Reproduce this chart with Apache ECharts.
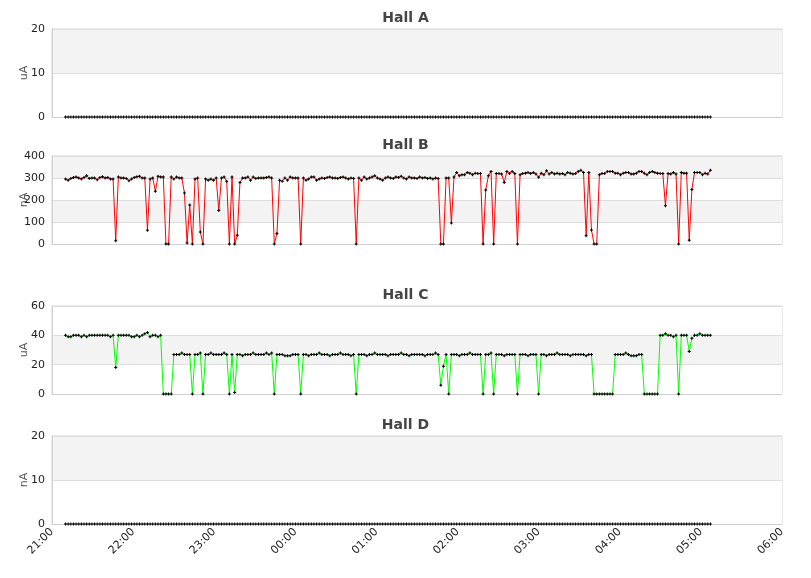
<!DOCTYPE html>
<html>
<head>
<meta charset="utf-8">
<script src="https://cdn.jsdelivr.net/npm/echarts@6/dist/echarts.min.js"></script>
<style>
html,body{margin:0;padding:0;background:#fff}
#main{width:811px;height:578px}
</style>
</head>
<body>
<div id="main"></div>
<script>
// samples: first one at 21:10, about every 1.95 min
var startMin = 10
var stepMin = 1.955

var tickLabels = ['21:00','22:00','23:00','00:00','01:00','02:00','03:00','04:00','05:00','06:00']

var halls = ['Hall A','Hall B','Hall C','Hall D']
var units = ['uA','nA','uA','nA']

// Hall A - flat zero all night
var hallA = [
0,0,0,0,0,0,0,0,0,0,0,0,0,0,0,0,0,0,0,0,0,0,0,0,0,0,0,0,0,0,0,0,0,0,0,0,0,0,0,0,0,0,0,0,0,0,0,0,0,0,
0,0,0,0,0,0,0,0,0,0,0,0,0,0,0,0,0,0,0,0,0,0,0,0,0,0,0,0,0,0,0,0,0,0,0,0,0,0,0,0,0,0,0,0,0,0,0,0,0,0,
0,0,0,0,0,0,0,0,0,0,0,0,0,0,0,0,0,0,0,0,0,0,0,0,0,0,0,0,0,0,0,0,0,0,0,0,0,0,0,0,0,0,0,0,0,0,0,0,0,0,
0,0,0,0,0,0,0,0,0,0,0,0,0,0,0,0,0,0,0,0,0,0,0,0,0,0,0,0,0,0,0,0,0,0,0,0,0,0,0,0,0,0,0,0,0,0,0,0,0,0,
0,0,0,0,0,0,0,0,0,0,0,0,0,0,0,0,0,0,0,0,0,0,0,0,0,0,0,0,0,0,0,0,0,0,0,0,0,0,0,0,0,0,0,0,0]

// Hall B
var hallB = [
295,290,298,302,305,300,296,302,310,298,300,300,292,302,306,300,302,296,295,
15,
305,300,300,298,288,295,302,306,308,300,300,
62,
295,300,240,308,305,305,0,0,305,295,305,300,300,232,5,177,0,295,300,55,0,
295,290,295,290,300,152,300,305,285,0,305,0,40,280,
300,300,305,290,305,298,300,300,300,302,305,300,
0,48,290,
285,300,290,305,300,300,300,
0,300,
290,295,305,305,290,295,300,298,302,305,300,300,298,302,305,300,295,300,298,
0,300,
290,305,295,300,305,310,300,295,290,300,305,300,298,305,302,308,300,295,305,300,
300,298,305,300,302,298,300,295,300,298,
0,0,300,300,95,305,325,
310,315,315,325,322,315,322,320,320,
0,245,310,330,0,320,320,318,280,330,320,330,320,0,315,
320,322,325,320,325,318,303,322,315,333,318,325,318,322,318,320,315,325,322,318,320,330,335,
325,38,325,64,0,0,315,
320,320,330,330,330,322,322,315,322,325,325,318,318,322,330,330,322,315,325,330,325,322,320,320,
174,320,318,325,318,0,325,322,322,17,248,325,325,325,315,322,318,335]

// Hall C
var hallC = [
40,39,39,40,40,40,39,40,39,40,40,40,40,40,40,40,40,39,40,
18,
40,40,40,40,40,39,39,40,39,40,41,42,39,40,40,39,40,
0,0,0,0,
27,27,27,28,27,27,27,
0,
27,27,28,
0,
27,27,28,27,27,27,27,28,27,
0,27,1,
27,27,26,27,27,27,28,27,27,27,27,28,27,28,
0,
27,27,27,26,26,26,27,27,27,
0,
27,27,26,27,27,27,28,27,27,27,26,27,27,27,28,27,27,27,26,27,
0,
27,27,27,26,27,27,28,27,27,27,27,26,27,27,27,27,28,27,27,26,27,27,27,27,27,26,27,27,27,28,27,
6,19,27,0,
27,27,27,26,27,27,27,28,27,27,27,27,
0,
27,27,28,
0,
27,27,27,26,27,27,27,27,
0,
27,27,27,26,27,27,27,
0,
27,27,26,27,27,27,28,27,27,27,27,26,27,27,27,27,27,26,27,27,
0,0,0,0,0,0,0,0,
27,27,27,27,28,27,26,26,26,27,27,
0,0,0,0,0,0,
40,40,41,40,40,39,40,
0,
40,40,40,29,38,
40,40,41,40,40,40,40]

// Hall D - flat zero all night
var hallD = [
0,0,0,0,0,0,0,0,0,0,0,0,0,0,0,0,0,0,0,0,0,0,0,0,0,0,0,0,0,0,0,0,0,0,0,0,0,0,0,0,0,0,0,0,0,0,0,0,0,0,
0,0,0,0,0,0,0,0,0,0,0,0,0,0,0,0,0,0,0,0,0,0,0,0,0,0,0,0,0,0,0,0,0,0,0,0,0,0,0,0,0,0,0,0,0,0,0,0,0,0,
0,0,0,0,0,0,0,0,0,0,0,0,0,0,0,0,0,0,0,0,0,0,0,0,0,0,0,0,0,0,0,0,0,0,0,0,0,0,0,0,0,0,0,0,0,0,0,0,0,0,
0,0,0,0,0,0,0,0,0,0,0,0,0,0,0,0,0,0,0,0,0,0,0,0,0,0,0,0,0,0,0,0,0,0,0,0,0,0,0,0,0,0,0,0,0,0,0,0,0,0,
0,0,0,0,0,0,0,0,0,0,0,0,0,0,0,0,0,0,0,0,0,0,0,0,0,0,0,0,0,0,0,0,0,0,0,0,0,0,0,0,0,0,0,0,0]

var yMax = [20,400,60,20]
var yStep = [10,100,20,10]
var lineColor = ['transparent','#ff0000','#00ff00','transparent']

var gridTop = [29,156,306,436]
var titleTop = [11,138,288,418]

var cross = 'path://M0,1H3V2H0ZM1,0H2V3H1Z'

function pts(arr){
	var out=[]
	for(var i=0;i<arr.length;i++){
		out.push([startMin+i*stepMin, arr[i]])
	}
	return out
}

var allData=[hallA,hallB,hallC,hallD]

var title=[],grid=[],xAxis=[],yAxis=[],series=[]
for(var k=0;k<4;k++){
	title.push({
		text: halls[k], left:'center', top:titleTop[k], padding:0,
		textStyle:{fontSize:14,fontWeight:'bold',color:'#444',fontFamily:'DejaVu Sans'}
	})
	grid.push({
		left:52, right:29, top:gridTop[k], height:88,
		show:true, borderColor:'#d6d6d6', borderWidth:1, backgroundColor:'transparent'
	})
	xAxis.push({
		type:'value', gridIndex:k, min:0, max:540, interval:60,
		axisLine:{show:true,lineStyle:{color:'#d0d0d0'}},
		axisTick:{show:false},
		splitLine:{show:false},
		axisLabel:{
			show:k==3, rotate:45, margin:6, color:'#222', fontSize:11, fontFamily:'DejaVu Sans',
			formatter:function(v){ return tickLabels[Math.round(v/60)] }
		}
	})
	yAxis.push({
		type:'value', gridIndex:k, min:0, max:yMax[k], interval:yStep[k],
		name:units[k], nameLocation:'middle', nameGap:22, nameMoveOverlap:false,
		nameTextStyle:{color:'#555',fontSize:11,fontFamily:'DejaVu Sans'},
		axisLine:{show:true,lineStyle:{color:'#d0d0d0'}},
		axisTick:{show:false},
		axisLabel:{color:'#222',fontSize:11,margin:7,fontFamily:'DejaVu Sans'},
		splitLine:{show:true,lineStyle:{color:'#dddddd'}},
		splitArea:{show:true,areaStyle:{color:['#ffffff','#f3f3f3']}}
	})
	series.push({
		name:halls[k], type:'line', xAxisIndex:k, yAxisIndex:k,
		data:pts(allData[k]),
		symbol:cross, symbolSize:3, showAllSymbol:true,
		itemStyle:{color:'#000'},
		lineStyle:{color:lineColor[k],width:1},
		emphasis:{disabled:true},
		animation:false
	})
}

var myChart = echarts.init(document.getElementById('main'))
myChart.setOption({
	backgroundColor:'#fff',
	animation:false,
	title:title,
	grid:grid,
	xAxis:xAxis,
	yAxis:yAxis,
	series:series
})
</script>
</body>
</html>
